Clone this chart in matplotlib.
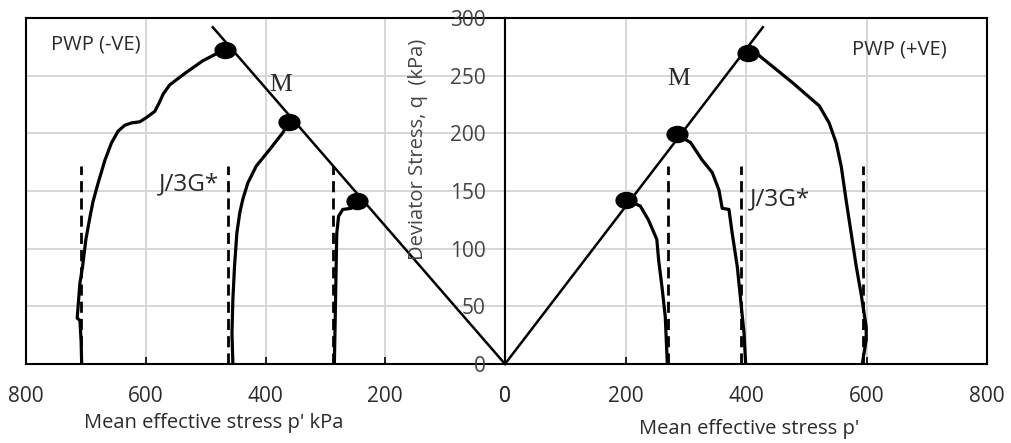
import matplotlib
matplotlib.use("Agg")
import matplotlib.pyplot as plt
from matplotlib.path import Path
from matplotlib.transforms import Affine2D

plt.rcParams['font.family'] = ['Open Sans', 'DejaVu Sans']

# ---------------- data ----------------
# Left panel (PWP -VE, extension): p' (kPa), q (kPa)
L1_p = [707, 708, 710, 714.5, 710, 705.5, 700, 693, 688, 679.5, 668, 657, 646, 635, 624, 610, 599, 585, 577, 571, 560, 532, 504.5, 482, 468]
L1_q = [0, 20, 38, 39.7, 70, 84.6, 108, 128, 141, 157, 177, 192, 202, 207, 209, 210, 213.6, 219, 227, 234, 242, 253, 263, 269, 272]
L2_p = [454.5, 456, 454.5, 451.7, 447.8, 443, 438, 429.5, 415.5, 393, 371, 361]
L2_q = [0, 27, 56, 85, 113.6, 131, 142.6, 157, 171.6, 186, 200.6, 210]
L3_p = [285, 284, 283, 282, 281, 278, 271, 257, 250, 247]
L3_q = [0, 27, 56, 85, 113, 128, 134, 135, 139, 141]
L_peak_p = [468, 361, 247]
L_peak_q = [272, 210, 141]
L_M_p = [0, 488]
L_M_q = [0, 292]
L_dash_p = [708, 462, 288]

# Right panel (PWP +VE, compression)
R1_p = [199.5, 224.5, 238, 252, 255, 260.5, 266, 269.4]
R1_q = [142.6, 137, 125, 108, 90, 67, 41, 0]
R2_p = [285.5, 308, 327, 344, 355, 360.5, 371.7, 377, 385.5, 391, 396.7, 399.4]
R2_q = [199, 192, 177, 166, 151, 135, 134, 113.6, 84.6, 56, 27, 0]
R3_p = [404, 421.7, 477, 521.7, 538, 549.5, 558, 566, 574.5, 583, 591, 599.5, 599.5, 593]
R3_q = [270, 267.5, 244, 223.8, 209, 192, 171.6, 142.6, 113.6, 84.6, 61, 32, 21, 0]
R_peak_p = [200, 285.5, 404]
R_peak_q = [142.6, 199, 270]
R_M_p = [0, 428]
R_M_q = [0, 292]
R_dash_p = [270, 392, 595]

dash_q = [0, 172]
x_ticks = [0, 200, 400, 600, 800]
y_ticks = [0, 50, 100, 150, 200, 250, 300]

# ---------------- figure ----------------
W, H = 1011, 443
fig = plt.figure(figsize=(W / 100, H / 100), dpi=100)

def px_rect(x0, x1, ytop, ybot):
    return [x0 / W, 1 - ybot / H, (x1 - x0) / W, (ybot - ytop) / H]

axL = fig.add_axes(px_rect(26, 505, 18, 364))
axR = fig.add_axes(px_rect(505, 987, 18, 364))

ell = Path.unit_circle().transformed(Affine2D().scale(1.3, 1.0))

grid_c = '#d6d6d6'
txt_c = '#2a2a2a'

for ax in (axL, axR):
    ax.set_ylim(0, 300)
    ax.set_xticks(x_ticks)
    ax.set_yticks(y_ticks)
    ax.grid(True, color=grid_c, lw=1.4)
    ax.set_axisbelow(True)
    for s in ax.spines.values():
        s.set_linewidth(1.5)
        s.set_color('black')
    ax.tick_params(axis='x', direction='in', length=5, width=1.2, pad=16,
                   labelsize=15, labelcolor=txt_c)

axL.set_xlim(800, 0)
axR.set_xlim(0, 800)

axL.tick_params(axis='y', left=False, labelleft=False)
axR.tick_params(axis='y', left=True, length=0, pad=14, labelsize=15, labelcolor='#444444')

curve_kw = dict(color='black', lw=2.3, solid_joinstyle='round')
dash_kw = dict(color='black', lw=2.0, dashes=(4, 2.2))
mk_kw = dict(marker=ell, markersize=15, color='black', linestyle='none', zorder=5)

# Left panel
axL.plot(L_M_p, L_M_q, color='black', lw=1.8)
for p in L_dash_p:
    axL.plot([p, p], dash_q, **dash_kw)
axL.plot(L1_p, L1_q, **curve_kw)
axL.plot(L2_p, L2_q, **curve_kw)
axL.plot(L3_p, L3_q, **curve_kw)
axL.plot(L_peak_p, L_peak_q, **mk_kw)

# Right panel
axR.plot(R_M_p, R_M_q, color='black', lw=1.8, clip_on=False)
for p in R_dash_p:
    axR.plot([p, p], dash_q, **dash_kw)
axR.plot(R1_p, R1_q, **curve_kw)
axR.plot(R2_p, R2_q, **curve_kw)
axR.plot(R3_p, R3_q, **curve_kw)
axR.plot(R_peak_p, R_peak_q, **mk_kw)

# Texts
axL.text(683, 277, 'PWP (-VE)', fontsize=14.5, ha='center', va='center', color=txt_c)
axR.text(655, 273, 'PWP (+VE)', fontsize=14.5, ha='center', va='center', color=txt_c)
axL.text(527, 156, 'J/3G*', fontsize=17.5, ha='center', va='center', color=txt_c)
axR.text(456, 143, 'J/3G*', fontsize=17.5, ha='center', va='center', color=txt_c)
axL.text(375, 242, 'M', fontsize=18.5, ha='center', va='center', family='Liberation Serif', color=txt_c)
axR.text(288, 247, 'M', fontsize=18.5, ha='center', va='center', family='Liberation Serif', color=txt_c)

axL.set_xlabel("Mean effective stress p' kPa", fontsize=14.5, color=txt_c)
axL.xaxis.set_label_coords(0.392, -0.142)
axR.set_xlabel("Mean effective stress p'", fontsize=14.5, color=txt_c)
axR.xaxis.set_label_coords(0.507, -0.158)
axR.set_ylabel('Deviator Stress, q  (kPa)', fontsize=14.5, color='#444444')
axR.yaxis.set_label_coords(-0.16, 0.62)

fig.savefig('out.png', dpi=100)
